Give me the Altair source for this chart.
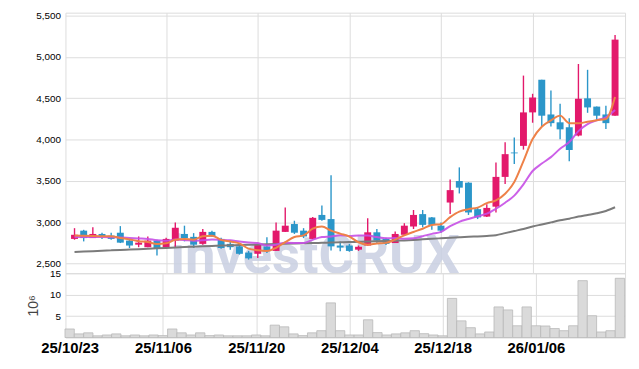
import altair as alt
import pandas as pd

# ---- data ----
opens = [2800, 2900, 2810, 2860, 2840, 2875, 2780, 2730, 2700, 2780,
         2695, 2780, 2860, 2825, 2740, 2885, 2800, 2740, 2710, 2635,
         2620, 2710, 2655, 2885, 2980, 2900, 2800, 3090, 3040, 2720,
         2720, 2670, 2720, 2880, 2800, 2750, 2850, 2950, 3100, 3060,
         2960, 3240, 3500, 3480, 3160, 3070, 3190, 3550, 3845, 3925,
         4330, 4725, 4305, 4210, 4150, 4050, 4500, 4400, 4305, 4290]
highs = [2930, 2910, 2940, 2875, 2875, 2955, 2790, 2830, 2830, 2790,
         2815, 3000, 2960, 2870, 2920, 2900, 2815, 2780, 2720, 2655,
         2740, 2820, 3000, 3180, 3020, 2930, 3065, 3205, 3570, 2770,
         2740, 2720, 3050, 2920, 2815, 2890, 2990, 3150, 3150, 3065,
         3000, 3520, 3665, 3485, 3175, 3220, 3725, 3970, 4025, 4775,
         4555, 4725, 4595, 4435, 4260, 4915, 4845, 4400, 4410, 5265]
lows = [2790, 2770, 2810, 2800, 2790, 2750, 2690, 2700, 2700, 2600,
        2695, 2700, 2770, 2690, 2730, 2825, 2680, 2670, 2610, 2550,
        2570, 2630, 2655, 2885, 2860, 2810, 2800, 3020, 2660, 2650,
        2645, 2655, 2720, 2755, 2725, 2750, 2850, 2920, 2940, 2910,
        2875, 3100, 3350, 3090, 3040, 3065, 3120, 3465, 3705, 3880,
        4205, 4160, 4160, 4005, 3740, 4040, 4325, 4230, 4130, 4290]
closes = [2850, 2810, 2860, 2830, 2800, 2755, 2720, 2755, 2780, 2680,
          2800, 2935, 2810, 2730, 2885, 2830, 2690, 2700, 2620, 2565,
          2730, 2650, 2900, 2960, 2875, 2830, 3055, 3030, 2710, 2695,
          2655, 2705, 2880, 2780, 2740, 2860, 2960, 3090, 2970, 2970,
          2900, 3390, 3420, 3120, 3060, 3175, 3550, 3825, 3835, 4330,
          4510, 4290, 4200, 4125, 3875, 4495, 4390, 4290, 4200, 5210]
ma5 = [2840, 2838, 2835, 2833, 2831, 2812, 2794, 2773, 2762, 2738,
       2747, 2789, 2800, 2791, 2832, 2838, 2789, 2768, 2746, 2682,
       2662, 2653, 2693, 2761, 2823, 2843, 2924, 2950, 2900, 2864,
       2829, 2760, 2730, 2744, 2752, 2792, 2843, 2884, 2923, 2969,
       2978, 3064, 3130, 3160, 3178, 3233, 3265, 3346, 3489, 3742,
       4009, 4157, 4233, 4291, 4200, 4198, 4218, 4236, 4251, 4517]
ma10 = [2822, 2822, 2823, 2822, 2820, 2818, 2812, 2806, 2800, 2784,
        2779, 2792, 2787, 2777, 2785, 2792, 2789, 2784, 2768, 2757,
        2750, 2721, 2730, 2753, 2752, 2752, 2789, 2822, 2830, 2844,
        2836, 2842, 2840, 2822, 2808, 2811, 2801, 2807, 2833, 2861,
        2885, 2954, 3007, 3041, 3074, 3105, 3165, 3238, 3324, 3460,
        3621, 3711, 3789, 3890, 3971, 4103, 4188, 4234, 4271, 4359]
ma60 = [2642, 2647, 2652, 2657, 2662, 2667, 2671, 2676, 2681, 2686,
        2691, 2696, 2701, 2706, 2710, 2715, 2720, 2723, 2726, 2729,
        2732, 2735, 2738, 2741, 2744, 2747, 2750, 2753, 2756, 2759,
        2762, 2765, 2768, 2772, 2775, 2778, 2782, 2788, 2795, 2802,
        2808, 2814, 2820, 2826, 2830, 2836, 2845, 2870, 2895, 2920,
        2950, 2975, 3000, 3025, 3045, 3070, 3090, 3110, 3138, 3183]
volumes = [2.0, 0.85, 1.1, 0.4, 0.6, 0.85, 0.4, 0.6, 0.4, 0.6,
           0.45, 2.0, 1.1, 0.6, 1.1, 0.45, 0.6, 0.4, 0.4, 0.4,
           0.6, 0.4, 2.9, 2.5, 0.85, 0.45, 1.1, 1.6, 8.1, 1.6,
           0.6, 0.6, 4.15, 1.15, 0.6, 0.85, 1.1, 1.6, 0.9, 0.6,
           0.4, 9.15, 3.9, 2.3, 0.85, 1.3, 7.15, 6.45, 2.75, 7.15,
           2.75, 2.7, 2.1, 1.6, 2.75, 13.3, 5.1, 1.3, 1.6, 13.85]
tick_positions = [0, 10, 20, 30, 40, 50]
tick_labels = ["25/10/23", "25/11/06", "25/11/20", "25/12/04", "25/12/18", "26/01/06"]
price_ticks = [2500, 3000, 3500, 4000, 4500, 5000, 5500]
vol_ticks = [5, 10, 15]
watermark = ["investCRUX"]

df = pd.DataFrame({
    "i": list(range(len(opens))),
    "open": opens, "high": highs, "low": lows, "close": closes,
    "ma5": ma5, "ma10": ma10, "ma60": ma60, "vol": volumes,
})

RED = "#e3196b"
BLUE = "#2b96c9"
FONT = "Roboto, sans-serif"
W = 565

xscale = alt.Scale(domain=[-0.45, 59.55], nice=False, zero=False)
yscale = alt.Scale(domain=[2386, 5536], nice=False, zero=False)
grid_cond = {"condition": {"test": "datum.value === 0", "value": 0}, "value": 1}
label_expr = "[" + ",".join("'%s'" % t for t in tick_labels) + "][round(datum.value/10)]"

x_axis_top = alt.Axis(values=tick_positions, labels=False, ticks=False, domain=False,
                      grid=True, gridOpacity=grid_cond, title=None,
                      minExtent=0, maxExtent=0)
y_axis_price = alt.Axis(values=price_ticks, labelExpr="format(datum.value, ',')",
                        title=None, ticks=False, domain=False, labelPadding=5)


def X(field):
    return alt.X(field, scale=xscale, axis=x_axis_top)


def Y(field):
    return alt.Y(field, scale=yscale, axis=y_axis_price)


color = alt.condition("datum.close >= datum.open", alt.value(RED), alt.value(BLUE))

base = alt.Chart(df)
wm = alt.Chart(pd.DataFrame({"t": watermark})).mark_text(
    font="Roboto", fontWeight="bold", fontSize=55, color="#c9d0e2", opacity=0.85,
    baseline="alphabetic", align="center"
).encode(text="t:N", x=alt.value(252), y=alt.value(263))

wick = base.mark_rule(strokeWidth=1.4).encode(x=X("i:Q"), y=Y("low:Q"), y2="high:Q", color=color)
body = base.mark_bar(size=7).encode(x=X("i:Q"), y=Y("open:Q"), y2="close:Q", color=color)
l60 = base.mark_line(color="#7b7b7b", strokeWidth=2, interpolate="monotone").encode(x=X("i:Q"), y=Y("ma60:Q"))
l10 = base.mark_line(color="#c64fe6", strokeWidth=2, interpolate="monotone", opacity=0.9).encode(x=X("i:Q"), y=Y("ma10:Q"))
l5 = base.mark_line(color="#ee8148", strokeWidth=2, interpolate="monotone").encode(x=X("i:Q"), y=Y("ma5:Q"))

price = alt.layer(wm, wick, body, l60, l10, l5).properties(width=W, height=263)

vol = base.transform_calculate(x0="datum.i - 0.5", x1="datum.i + 0.5").mark_rect(
    color="#dadada", stroke="#b8b8b8", strokeWidth=0.8
).encode(
    x=alt.X("x0:Q", scale=xscale,
            axis=alt.Axis(values=tick_positions, labelExpr=label_expr, ticks=False,
                          domain=False, grid=True, gridOpacity=grid_cond, title=None,
                          labelPadding=3, labelFontSize=15, labelFontWeight=600)),
    x2="x1:Q",
    y=alt.Y("vol:Q", scale=alt.Scale(domain=[0, 15.05], nice=False),
            axis=alt.Axis(values=vol_ticks, title="10⁶", ticks=False, domain=False,
                          labelPadding=5, titlePadding=9, titleFontWeight="normal",
                          titleFontSize=14, titleColor="#444")),
    y2=alt.datum(0),
).properties(width=W, height=65)

chart = alt.vconcat(price, vol, spacing=0, bounds="flush").properties(
    padding={"left": 18, "top": 0, "right": 5, "bottom": 5}
).configure_view(stroke="#cccccc").configure_axis(
    labelFont=FONT, titleFont=FONT, labelFontSize=14, labelFontWeight=500,
    labelColor="#1a1a1a",
    gridColor="#b9bdd2", gridDash=[1, 3], gridWidth=1
).configure(background="white")

chart.save("out.html", embed_options={"renderer": "svg", "actions": False})
